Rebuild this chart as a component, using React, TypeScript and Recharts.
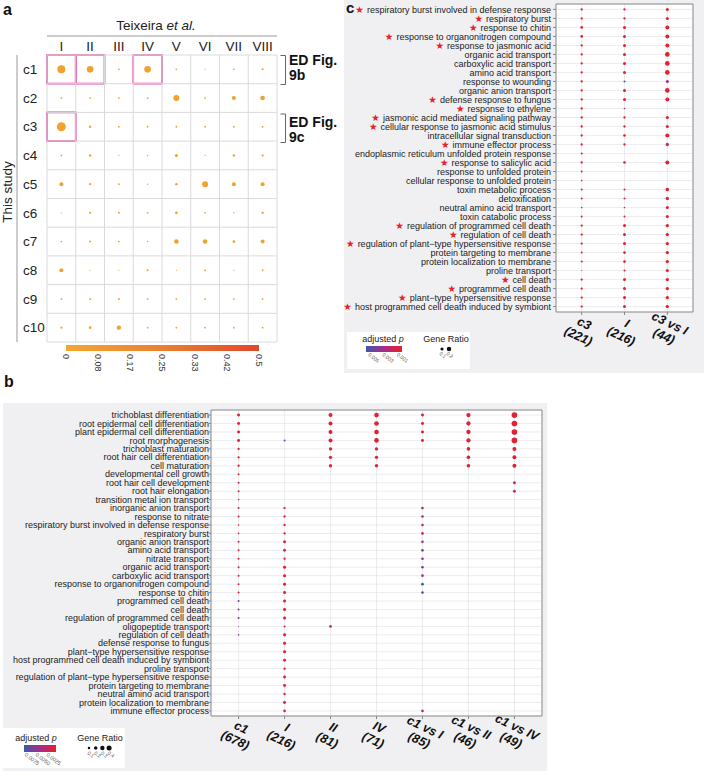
import React from 'react';
import {
  ScatterChart, Scatter, XAxis, YAxis, ZAxis, CartesianGrid,
  ReferenceLine, ReferenceArea, Cell,
} from 'recharts';

const FONT = '"Liberation Sans", Arial, Helvetica, sans-serif';
const N = null;

// ================= Panel a: cluster overlap =================
const studyClusters = ['c1', 'c2', 'c3', 'c4', 'c5', 'c6', 'c7', 'c8', 'c9', 'c10'];
const teixeiraClusters = ['I', 'II', 'III', 'IV', 'V', 'VI', 'VII', 'VIII'];
const overlapC1 = [0.30, 0.21, 0.015, 0.21, 0.015, 0.007, 0.015, 0.022];
const overlapC2 = [0.015, 0.015, 0.015, 0.015, 0.17, 0.015, 0.076, 0.10];
const overlapC3 = [0.38, 0.028, 0.015, 0.015, 0.015, 0.015, 0.015, 0.015];
const overlapC4 = [0.015, 0.028, 0.007, 0.01, 0.043, 0.007, 0.028, 0.022];
const overlapC5 = [0.076, 0.022, 0.015, 0.01, 0.028, 0.17, 0.076, 0.076];
const overlapC6 = [0.007, 0.022, 0.018, 0.015, 0.034, 0.015, 0.01, 0.028];
const overlapC7 = [0.015, 0.018, 0.015, 0.01, 0.10, 0.10, 0.034, 0.076];
const overlapC8 = [0.076, 0.007, 0.007, 0.018, 0.007, 0.015, 0.007, 0.015];
const overlapC9 = [0.015, 0.018, 0.018, 0.015, 0.015, 0.015, 0.015, 0.015];
const overlapC10 = [0.022, 0.034, 0.089, 0.015, 0.015, 0.015, 0.015, 0.015];
const overlapByCluster = [overlapC1, overlapC2, overlapC3, overlapC4, overlapC5, overlapC6, overlapC7, overlapC8, overlapC9, overlapC10];
const overlapScaleTicks = ['0', '0.08', '0.17', '0.25', '0.33', '0.42', '0.5'];
const highlightedCells = [['c1', 'I'], ['c1', 'II'], ['c1', 'IV'], ['c3', 'I']];

// ================= Panel b: GO terms, c1 comparison =================
const bTerms = [
  'trichoblast differentiation', 'root epidermal cell differentiation', 'plant epidermal cell differentiation',
  'root morphogenesis', 'trichoblast maturation', 'root hair cell differentiation', 'cell maturation',
  'developmental cell growth', 'root hair cell development', 'root hair elongation', 'transition metal ion transport',
  'inorganic anion transport', 'response to nitrate', 'respiratory burst involved in defense response',
  'respiratory burst', 'organic anion transport', 'amino acid transport', 'nitrate transport',
  'organic acid transport', 'carboxylic acid transport', 'response to organonitrogen compound', 'response to chitin',
  'programmed cell death', 'cell death', 'regulation of programmed cell death', 'oligopeptide transport',
  'regulation of cell death', 'defense response to fungus', 'plant\u2212type hypersensitive response',
  'host programmed cell death induced by symbiont', 'proline transport',
  'regulation of plant\u2212type hypersensitive response', 'protein targeting to membrane',
  'neutral amino acid transport', 'protein localization to membrane', 'immune effector process',
];
const bGroups = ['c1', 'I', 'II', 'IV', 'c1 vs I', 'c1 vs II', 'c1 vs IV'];
const bCounts = [678, 216, 81, 71, 85, 46, 49];
const bRatioC1 = [0.14, 0.14, 0.14, 0.14, 0.085, 0.085, 0.085, 0.0625, 0.0625, 0.0625, 0.043, 0.0625, 0.0625, 0.043, 0.043, 0.0625, 0.0625, 0.0625, 0.0625, 0.0625, 0.0625, 0.0625, 0.0625, 0.0625, 0.0625, 0.016, 0.043, N, N, N, N, N, N, N, N, N];
const bRatioI = [N, N, N, 0.0625, N, N, N, N, N, N, N, 0.085, 0.085, 0.085, 0.085, 0.14, 0.14, 0.085, 0.14, 0.14, 0.14, 0.14, 0.14, 0.14, 0.14, 0.0625, 0.14, 0.14, 0.14, 0.14, 0.085, 0.14, 0.14, 0.085, 0.14, 0.11];
const bRatioII = [0.25, 0.25, 0.25, 0.25, 0.174, 0.174, 0.174, N, N, N, N, N, N, N, N, N, N, N, N, N, N, N, N, N, N, 0.11, N, N, N, N, N, N, N, N, N, N];
const bRatioIV = [0.34, 0.34, 0.34, 0.34, 0.174, 0.174, 0.174, N, N, N, N, N, N, N, N, N, N, N, N, N, N, N, N, N, N, N, N, N, N, N, N, N, N, N, N, N];
const bRatioVsI = [0.14, 0.14, 0.14, 0.14, N, N, N, N, N, N, N, 0.11, 0.11, 0.11, 0.11, 0.11, 0.11, 0.11, 0.11, 0.11, 0.11, 0.11, N, N, N, N, N, N, N, N, N, N, N, N, N, 0.11];
const bRatioVsII = [0.29, 0.29, 0.29, 0.29, 0.21, 0.21, 0.21, N, N, N, N, N, N, N, N, N, N, N, N, N, N, N, N, N, N, N, N, N, N, N, N, N, N, N, N, N];
const bRatioVsIV = [0.5, 0.5, 0.5, 0.5, 0.25, 0.25, 0.25, N, 0.14, 0.14, N, N, N, N, N, N, N, N, N, N, N, N, N, N, N, N, N, N, N, N, N, N, N, N, N, N];
const bPadjC1 = [0.0008, 0.0008, 0.0008, 0.0008, 0.0008, 0.0008, 0.0008, 0.0008, 0.0008, 0.0008, 0.0008, 0.0008, 0.0008, 0.0008, 0.0008, 0.0008, 0.0008, 0.0008, 0.0008, 0.0008, 0.0008, 0.0008, 0.0052, 0.0052, 0.0052, 0.005, 0.0062, N, N, N, N, N, N, N, N, N];
const bPadjI = [N, N, N, 0.0065, N, N, N, N, N, N, N, 0.0008, 0.0008, 0.0008, 0.0008, 0.0008, 0.0008, 0.0008, 0.0008, 0.0008, 0.0008, 0.0008, 0.0008, 0.0008, 0.0008, 0.0008, 0.0008, 0.0008, 0.0008, 0.0008, 0.0008, 0.0008, 0.0008, 0.0008, 0.0008, 0.0008];
const bPadjII = [0.0008, 0.0008, 0.0008, 0.0008, 0.0008, 0.0008, 0.0008, N, N, N, N, N, N, N, N, N, N, N, N, N, N, N, N, N, N, 0.0022, N, N, N, N, N, N, N, N, N, N];
const bPadjIV = [0.0008, 0.0008, 0.0008, 0.0008, 0.0008, 0.0008, 0.0008, N, N, N, N, N, N, N, N, N, N, N, N, N, N, N, N, N, N, N, N, N, N, N, N, N, N, N, N, N];
const bPadjVsI = [0.0008, 0.0008, 0.0008, 0.0008, N, N, N, N, N, N, N, 0.0027, 0.0027, 0.0025, 0.0026, 0.0052, 0.0042, 0.0046, 0.0042, 0.0042, 0.0076, 0.006, N, N, N, N, N, N, N, N, N, N, N, N, N, 0.0036];
const bPadjVsII = [0.0008, 0.0008, 0.0008, 0.0008, 0.0008, 0.0008, 0.0008, N, N, N, N, N, N, N, N, N, N, N, N, N, N, N, N, N, N, N, N, N, N, N, N, N, N, N, N, N];
const bPadjVsIV = [0.0008, 0.0008, 0.0008, 0.0008, 0.0008, 0.0008, 0.0008, N, 0.0024, 0.0024, N, N, N, N, N, N, N, N, N, N, N, N, N, N, N, N, N, N, N, N, N, N, N, N, N, N];
const bRatios = [bRatioC1, bRatioI, bRatioII, bRatioIV, bRatioVsI, bRatioVsII, bRatioVsIV];
const bPadjs = [bPadjC1, bPadjI, bPadjII, bPadjIV, bPadjVsI, bPadjVsII, bPadjVsIV];
const bPadjTicks = [0.0075, 0.005, 0.0025];
const bPadjTickLabels = ['0.0075', '0.0050', '0.0025'];
const bRatioTicks = [0.1, 0.2, 0.3, 0.4];

// ================= Panel c: GO terms, c3 comparison =================
const cTerms = [
  'respiratory burst involved in defense response', 'respiratory burst', 'response to chitin',
  'response to organonitrogen compound', 'response to jasmonic acid', 'organic acid transport',
  'carboxylic acid transport', 'amino acid transport', 'response to wounding', 'organic anion transport',
  'defense response to fungus', 'response to ethylene', 'jasmonic acid mediated signaling pathway',
  'cellular response to jasmonic acid stimulus', 'intracellular signal transduction', 'immune effector process',
  'endoplasmic reticulum unfolded protein response', 'response to salicylic acid', 'response to unfolded protein',
  'cellular response to unfolded protein', 'toxin metabolic process', 'detoxification',
  'neutral amino acid transport', 'toxin catabolic process', 'regulation of programmed cell death',
  'regulation of cell death', 'regulation of plant\u2212type hypersensitive response', 'protein targeting to membrane',
  'protein localization to membrane', 'proline transport', 'cell death', 'programmed cell death',
  'plant\u2212type hypersensitive response', 'host programmed cell death induced by symbiont',
];
const cStarred = [true, true, true, true, true, false, false, false, false, false, true, true, true, true, false, true, false, true, false, false, false, false, false, false, true, true, true, false, false, false, true, true, true, true];
const cGroups = ['c3', 'I', 'c3 vs I'];
const cCounts = [221, 216, 44];
const cRatioC3 = [0.054, 0.054, 0.071, 0.071, 0.054, 0.054, 0.054, 0.054, 0.054, 0.054, 0.054, 0.054, 0.054, 0.054, 0.054, 0.054, 0.04, 0.054, 0.04, 0.028, 0.04, 0.04, 0.028, 0.04, 0.054, 0.054, 0.054, 0.04, 0.04, 0.01, 0.054, 0.054, 0.054, 0.054];
const cRatioI = [0.054, 0.054, 0.09, 0.09, 0.09, 0.09, 0.09, 0.09, 0.04, 0.09, 0.09, 0.028, 0.054, 0.054, 0.071, 0.054, N, 0.071, N, N, 0.04, 0.04, 0.028, 0.04, 0.09, 0.09, 0.09, 0.071, 0.071, 0.04, 0.09, 0.09, 0.09, 0.09];
const cRatioVsI = [0.09, 0.09, 0.16, 0.16, 0.16, 0.218, 0.218, 0.218, 0.09, 0.218, 0.16, N, 0.09, 0.09, 0.16, 0.111, N, 0.16, N, N, 0.134, 0.111, 0.09, 0.09, 0.111, 0.111, 0.111, 0.111, 0.111, 0.09, 0.111, 0.111, 0.111, 0.111];
const cPadjC3 = [0.0006, 0.0006, 0.0006, 0.0006, 0.0006, 0.0006, 0.0006, 0.0006, 0.0006, 0.0006, 0.0006, 0.0006, 0.0006, 0.0006, 0.0006, 0.0006, 0.0006, 0.0006, 0.0006, 0.0006, 0.0006, 0.0006, 0.0006, 0.0006, 0.0006, 0.0006, 0.0006, 0.0006, 0.0006, 0.0006, 0.0006, 0.0006, 0.0006, 0.0006];
const cPadjI = [0.0006, 0.0006, 0.0006, 0.0006, 0.0006, 0.0006, 0.0006, 0.0006, 0.0052, 0.0006, 0.0006, 0.0036, 0.0006, 0.0006, 0.0006, 0.0006, N, 0.0006, N, N, 0.0006, 0.0006, 0.0006, 0.0006, 0.0006, 0.0006, 0.0006, 0.0006, 0.0006, 0.0006, 0.0006, 0.0006, 0.0006, 0.0006];
const cPadjVsI = [0.0006, 0.0006, 0.0006, 0.0006, 0.0006, 0.0006, 0.0006, 0.0006, 0.003, 0.0006, 0.0006, N, 0.0006, 0.0006, 0.0006, 0.0018, N, 0.0006, N, N, 0.0006, 0.0006, 0.0006, 0.0006, 0.0006, 0.0006, 0.0006, 0.0006, 0.0006, 0.0006, 0.0006, 0.0006, 0.0006, 0.0006];
const cRatios = [cRatioC3, cRatioI, cRatioVsI];
const cPadjs = [cPadjC3, cPadjI, cPadjVsI];
const cPadjTicks = [0.005, 0.003, 0.001];
const cRatioTicks = [0.1, 0.2];

// ================= helpers =================
const B_LO = 0.0004, B_HI = 0.0078;
const C_LO = 0.0005, C_HI = 0.0055;
const P_BLUE = '#3f58a6', P_MID = '#a62c8e', P_RED = '#e8202a';
function hexRgb(c: string) {
  return [parseInt(c.slice(1, 3), 16), parseInt(c.slice(3, 5), 16), parseInt(c.slice(5, 7), 16)];
}
function mixHex(a: string, b: string, t: number) {
  const A = hexRgb(a), B = hexRgb(b);
  const r = A.map((v, i) => Math.round(v + (B[i] - v) * t));
  return `rgb(${r[0]},${r[1]},${r[2]})`;
}
function pColor(p: number, lo: number, hi: number) {
  let t = (hi - p) / (hi - lo);
  t = Math.max(0, Math.min(1, t));
  return t < 0.5 ? mixHex(P_BLUE, P_MID, t * 2) : mixHex(P_MID, P_RED, (t - 0.5) * 2);
}

function buildPoints(groups: string[], terms: string[], ratios: (number | null)[][], padjs: (number | null)[][]) {
  const pts: { x: number; y: number; z: number; p: number }[] = [];
  groups.forEach((_, gi) => {
    terms.forEach((__, ti) => {
      const z = ratios[gi][ti];
      const p = padjs[gi][ti];
      if (z != null && p != null) pts.push({ x: gi, y: ti, z, p });
    });
  });
  return pts;
}

const GroupTick = (props: any, names: string[], counts: number[]) => {
  const { x, y, payload } = props;
  const i = payload.value;
  return (
    <g transform={`translate(${x},${y + 14}) rotate(25)`}>
      <text textAnchor="middle" fontFamily={FONT} fontSize={12.5} fontWeight="bold" fontStyle="italic" fill="#111">
        <tspan x={0} y={-2}>{names[i]}</tspan>
        <tspan x={0} y={12}>({counts[i]})</tspan>
      </text>
    </g>
  );
};

// ================= Panel a chart =================
function PanelA() {
  const data = studyClusters.flatMap((c, ri) => overlapByCluster[ri].map((v, ci) => ({ x: ci + 1, y: ri + 1, v })));
  const xTicks = teixeiraClusters.map((_, i) => i + 1);
  const yTicks = studyClusters.map((_, i) => i + 1);
  const xBounds = [0, ...xTicks].map((t) => t + 0.5);
  const yBounds = [0, ...yTicks].map((t) => t + 0.5);
  return (
    <ScatterChart width={290} height={345} margin={{ top: 35, right: 13, bottom: 3, left: 0 }}>
      <XAxis type="number" dataKey="x" orientation="top" domain={[0.5, teixeiraClusters.length + 0.5]}
        ticks={xTicks} interval={0} allowDataOverflow axisLine={false} tickLine={false} tickSize={0} tickMargin={4} height={20}
        tick={(p: any) => (
          <text x={p.x} y={p.y} textAnchor="middle" fontFamily={FONT} fontSize={13.5} fill="#222">
            {teixeiraClusters[p.payload.value - 1]}
          </text>
        )} />
      <YAxis type="number" dataKey="y" domain={[0.5, studyClusters.length + 0.5]} reversed ticks={yTicks}
        interval={0} allowDataOverflow axisLine={false} tickLine={false} width={47}
        tick={(p: any) => (
          <text x={23} y={p.y} dy="0.35em" textAnchor="start" fontFamily={FONT} fontSize={13.5} fill="#222">
            {studyClusters[p.payload.value - 1]}
          </text>
        )} />
      <ZAxis type="number" dataKey="v" domain={[0, 0.5]} range={[0, 83]} />
      {xBounds.map((b) => (
        <ReferenceLine key={'vx' + b} x={b} stroke="#dadada" strokeWidth={1} ifOverflow="visible" />
      ))}
      {yBounds.map((b) => (
        <ReferenceLine key={'hy' + b} y={b} stroke="#dadada" strokeWidth={1} ifOverflow="visible" />
      ))}
      <Scatter data={data} fill="#f1a12e" isAnimationActive={false} />
      {highlightedCells.map(([r, c]) => {
        const ri = studyClusters.indexOf(r) + 1;
        const ci = teixeiraClusters.indexOf(c) + 1;
        return (
          <ReferenceArea key={r + c} x1={ci - 0.5} x2={ci + 0.5} y1={ri - 0.5} y2={ri + 0.5}
            fill="none" fillOpacity={0} stroke="#dc3a9c" strokeWidth={1.7} ifOverflow="visible" />
        );
      })}
    </ScatterChart>
  );
}

// ================= Panel b chart =================
function PanelB() {
  const pts = buildPoints(bGroups, bTerms, bRatios, bPadjs);
  const n = bTerms.length;
  const g = bGroups.length;
  return (
    <ScatterChart width={544} height={368} margin={{ top: 7, right: 5, bottom: 0, left: 0 }}>
      <CartesianGrid fill="#ffffff" stroke="#e4e4e8" strokeWidth={0.7} />
      <XAxis type="number" dataKey="x" domain={[-0.6, g - 0.4]} ticks={bGroups.map((_, i) => i)} interval={0}
        allowDataOverflow height={55} tickSize={3} tickMargin={0} axisLine={false} tickLine={{ stroke: '#888' }}
        tick={(p: any) => GroupTick(p, bGroups, bCounts)} />
      <YAxis type="number" dataKey="y" domain={[-0.6, n - 0.4]} reversed ticks={bTerms.map((_, i) => i)} interval={0}
        allowDataOverflow width={208} tickSize={2} tickMargin={0} axisLine={false} tickLine={{ stroke: '#888' }}
        tick={(p: any) => (
          <text x={p.x} y={p.y} dy="0.35em" textAnchor="end" fontFamily={FONT} fontSize={9} fill="#1a1a1a">
            {bTerms[p.payload.value]}
          </text>
        )} />
      <ZAxis type="number" dataKey="z" domain={[0, 1]} range={[0, 16 * Math.PI]} />
      <ReferenceArea x1={-0.6} x2={g - 0.4} y1={-0.6} y2={n - 0.4} fill="none" fillOpacity={0}
        stroke="#8c8c8c" strokeWidth={1} ifOverflow="visible" />
      <Scatter data={pts} isAnimationActive={false}>
        {pts.map((d, i) => <Cell key={i} fill={pColor(d.p, B_LO, B_HI)} />)}
      </Scatter>
    </ScatterChart>
  );
}

// ================= Panel c chart =================
function PanelC() {
  const pts = buildPoints(cGroups, cTerms, cRatios, cPadjs);
  const n = cTerms.length;
  const g = cGroups.length;
  return (
    <ScatterChart width={360} height={373} margin={{ top: 4, right: 11, bottom: 0, left: 0 }}>
      <CartesianGrid fill="#ffffff" stroke="#e4e4e8" strokeWidth={0.7} />
      <XAxis type="number" dataKey="x" domain={[-0.6, g - 0.4]} ticks={cGroups.map((_, i) => i)} interval={0}
        allowDataOverflow height={61} tickSize={3} tickMargin={0} axisLine={false} tickLine={{ stroke: '#888' }}
        tick={(p: any) => GroupTick(p, cGroups, cCounts)} />
      <YAxis type="number" dataKey="y" domain={[-0.6, n - 0.4]} reversed ticks={cTerms.map((_, i) => i)} interval={0}
        allowDataOverflow width={212} tickSize={3} tickMargin={2} axisLine={false} tickLine={{ stroke: '#888' }}
        tick={(p: any) => {
          const i = p.payload.value;
          return (
            <text x={p.x} y={p.y} dy="0.35em" textAnchor="end" fontFamily={FONT} fontSize={9} fill="#1a1a1a">
              {cStarred[i] ? (
                <tspan fill="#e3222b" fontFamily="DejaVu Sans" fontSize={9.5}>{'\u2605 '}</tspan>
              ) : null}
              <tspan>{cTerms[i]}</tspan>
            </text>
          );
        }} />
      <ZAxis type="number" dataKey="z" domain={[0, 1]} range={[0, 25 * Math.PI]} />
      <ReferenceArea x1={-0.6} x2={g - 0.4} y1={-0.6} y2={n - 0.4} fill="none" fillOpacity={0}
        stroke="#8c8c8c" strokeWidth={1} ifOverflow="visible" />
      <Scatter data={pts} isAnimationActive={false}>
        {pts.map((d, i) => <Cell key={i} fill={pColor(d.p, C_LO, C_HI)} />)}
      </Scatter>
    </ScatterChart>
  );
}

// ================= Overlay (labels, legends) =================
function Overlay() {
  const barX = 66, barW = 193;
  const bBarX = 24, bBarW = 32;
  const cBarX = 366, cBarW = 36;
  return (
    <svg width={706} height={771} style={{ position: 'absolute', left: 0, top: 0, pointerEvents: 'none' }}
      fontFamily={FONT}>
      <defs>
        <linearGradient id="orangeGrad" x1="0" x2="1" y1="0" y2="0">
          <stop offset="0" stopColor="#f5a631" />
          <stop offset="0.5" stopColor="#ec7f2f" />
          <stop offset="1" stopColor="#e1472c" />
        </linearGradient>
        <linearGradient id="pGrad" x1="0" x2="1" y1="0" y2="0">
          <stop offset="0" stopColor={P_BLUE} />
          <stop offset="0.5" stopColor={P_MID} />
          <stop offset="1" stopColor={P_RED} />
        </linearGradient>
      </defs>
      {/* panel letters */}
      <text x={3} y={15} fontSize={16} fontWeight="bold" fill="#111">a</text>
      <text x={4} y={387} fontSize={16} fontWeight="bold" fill="#111">b</text>
      <text x={346} y={13} fontSize={15} fontWeight="bold" fill="#111">c</text>

      {/* panel a annotations */}
      <text x={156} y={29.5} textAnchor="middle" fontSize={13.5} fill="#222">
        Teixeira <tspan fontStyle="italic">et al.</tspan>
      </text>
      <line x1={47} x2={277} y1={36} y2={36} stroke="#999" strokeWidth={1} />
      <line x1={17} x2={17} y1={55} y2={342} stroke="#999" strokeWidth={1} />
      <text transform="translate(7,192) rotate(-90)" textAnchor="middle" dy="0.35em" fontSize={13.5} fill="#222">This study</text>
      <path d="M280.5,55.5 H285.5 V84.5 H280.5" stroke="#666" fill="none" strokeWidth={1} />
      <text x={289} y={65} fontSize={14} fontWeight="bold" fill="#111">ED Fig.</text>
      <text x={289} y={80} fontSize={14} fontWeight="bold" fill="#111">9b</text>
      <path d="M280.5,114 H285.5 V142.5 H280.5" stroke="#666" fill="none" strokeWidth={1} />
      <text x={289} y={127} fontSize={14} fontWeight="bold" fill="#111">ED Fig.</text>
      <text x={289} y={142} fontSize={14} fontWeight="bold" fill="#111">9c</text>
      <rect x={barX} y={345} width={barW} height={6} fill="url(#orangeGrad)" />
      {overlapScaleTicks.map((t, i) => (
        <text key={t} transform={`translate(${barX + (i * barW) / (overlapScaleTicks.length - 1)},354) rotate(90)`}
          dy="0.35em" fontSize={9} fill="#333">{t}</text>
      ))}

      {/* panel b legend */}
      <rect x={3} y={728} width={122} height={40} fill="#ffffff" />
      <text x={36} y={741} textAnchor="middle" fontSize={9} fill="#222">
        adjusted <tspan fontStyle="italic">p</tspan>
      </text>
      <rect x={bBarX} y={745} width={bBarW} height={7} fill="url(#pGrad)" />
      {bPadjTicks.map((t, i) => {
        const xx = bBarX + ((B_HI - t) / (B_HI - B_LO)) * bBarW;
        return (
          <text key={t} transform={`translate(${xx},754) rotate(38)`} fontSize={5.5} fill="#555" dy="0.3em">
            {bPadjTickLabels[i]}
          </text>
        );
      })}
      <text x={100} y={741} textAnchor="middle" fontSize={9} fill="#222">Gene Ratio</text>
      {bRatioTicks.map((t, i) => (
        <g key={t}>
          <circle cx={89 + i * 6.7} cy={748} r={4 * Math.sqrt(t)} fill="#111" />
          <text transform={`translate(${88 + i * 6.7},752.5) rotate(38)`} fontSize={5} fill="#555" dy="0.3em">{t}</text>
        </g>
      ))}

      {/* panel c legend */}
      <rect x={347} y={332} width={123} height={37} fill="#ffffff" />
      <text x={383} y={341.5} textAnchor="middle" fontSize={9} fill="#222">
        adjusted <tspan fontStyle="italic">p</tspan>
      </text>
      <rect x={cBarX} y={346} width={cBarW} height={6} fill="url(#pGrad)" />
      {cPadjTicks.map((t) => {
        const xx = cBarX + ((C_HI - t) / (C_HI - C_LO)) * cBarW;
        return (
          <text key={t} transform={`translate(${xx - 1},354) rotate(38)`} fontSize={5} fill="#555" dy="0.3em">
            {t.toFixed(3)}
          </text>
        );
      })}
      <text x={446} y={341.5} textAnchor="middle" fontSize={9} fill="#222">Gene Ratio</text>
      {cRatioTicks.map((t, i) => (
        <g key={t}>
          <circle cx={442 + i * 7} cy={349} r={5 * Math.sqrt(t)} fill="#111" />
          <text transform={`translate(${440 + i * 7},353) rotate(38)`} fontSize={5} fill="#555" dy="0.3em">{t}</text>
        </g>
      ))}
    </svg>
  );
}

export default function App() {
  return (
    <div style={{ position: 'absolute', left: 0, top: 0, width: 706, height: 771, overflow: 'hidden', background: '#ffffff', fontFamily: FONT }}>
      <div style={{ position: 'absolute', left: 344, top: 0, width: 360, height: 373, background: '#f0f0f3' }} />
      <div style={{ position: 'absolute', left: 3, top: 403, width: 544, height: 368, background: '#f0f0f3' }} />
      <div style={{ position: 'absolute', left: 0, top: 0 }}>
        <PanelA />
      </div>
      <div style={{ position: 'absolute', left: 344, top: 0 }}>
        <PanelC />
      </div>
      <div style={{ position: 'absolute', left: 3, top: 403 }}>
        <PanelB />
      </div>
      <Overlay />
    </div>
  );
}
